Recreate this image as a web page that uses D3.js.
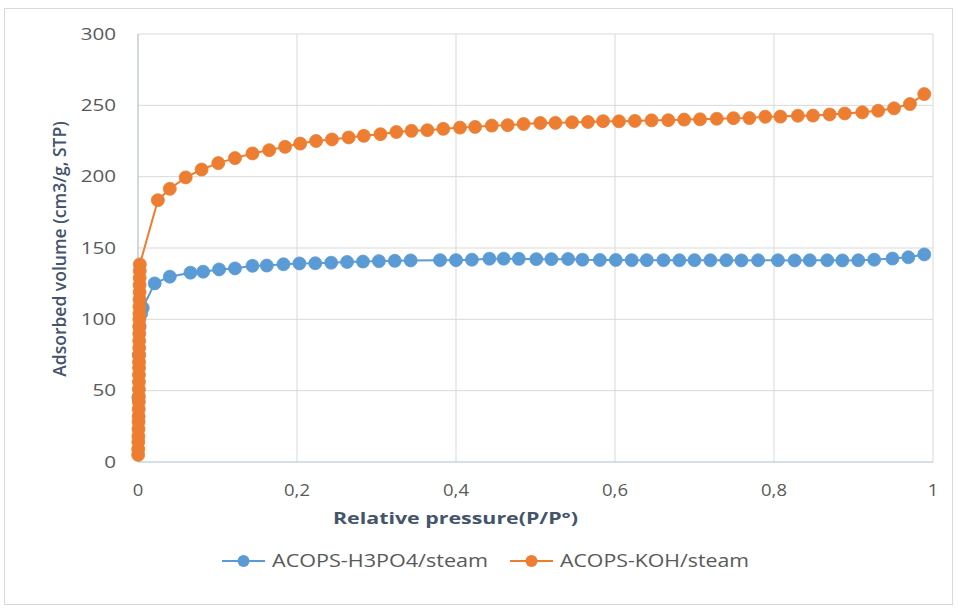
<!DOCTYPE html>
<html lang="en">
<head>
    <meta charset="UTF-8">
    <title>Adsorption isotherms</title>
    <script src="https://d3js.org/d3.v7.min.js"></script>
    <style>
        body { margin: 0; background: #fff; }
        svg { display: block; font-family: "Open Sans", sans-serif; }
        .tick-label { fill: #595959; font-size: 16.5px; }
        .legend-label { fill: #595959; font-size: 18px; }
    </style>
</head>
<body>
<div id="chart"></div>
<script>
    // tick labels
    const xTicks = [0, 0.2, 0.4, 0.6, 0.8, 1];
    const yTicks = [0, 50, 100, 150, 200, 250, 300];
    const seriesNames = ["ACOPS-H3PO4/steam", "ACOPS-KOH/steam"];
    const seriesColors = ["#5B9BD5", "#ED7D31"];

    // [relative pressure, adsorbed volume]
    const h3po4 = [
        [0.0005, 45], [0.001, 75], [0.002, 95], [0.004, 104], [0.006, 108],
        [0.021, 125.2], [0.040, 129.9], [0.066, 132.7], [0.082, 133.4], [0.102, 135],
        [0.122, 135.7], [0.144, 137.5], [0.162, 137.7], [0.183, 138.6], [0.203, 139.2],
        [0.223, 139.3], [0.243, 139.7], [0.263, 140.2], [0.283, 140.5], [0.303, 140.8],
        [0.323, 141], [0.343, 141.3], [0.380, 141.5], [0.400, 141.5], [0.420, 141.8],
        [0.442, 142.5], [0.460, 142.5], [0.479, 142.4], [0.501, 142.2], [0.520, 142.2],
        [0.541, 142.3], [0.559, 141.8], [0.581, 141.6], [0.601, 141.6], [0.621, 141.5],
        [0.640, 141.5], [0.661, 141.5], [0.681, 141.4], [0.700, 141.5], [0.720, 141.4],
        [0.740, 141.4], [0.759, 141.3], [0.780, 141.4], [0.805, 141.4], [0.826, 141.3],
        [0.845, 141.4], [0.867, 141.4], [0.886, 141.3], [0.906, 141.4], [0.926, 141.8],
        [0.949, 142.6], [0.969, 143.5], [0.989, 145.5]
    ];

    const koh = [
        [0.0002, 5], [0.0003, 9], [0.0004, 14], [0.0005, 18], [0.0006, 23],
        [0.0007, 28], [0.0008, 32], [0.0009, 37], [0.001, 42], [0.001, 46],
        [0.0011, 51], [0.0012, 56], [0.0012, 61], [0.0013, 66], [0.0013, 70],
        [0.0014, 75], [0.0015, 80], [0.0015, 85], [0.0016, 90], [0.0016, 95],
        [0.0017, 100], [0.0018, 104], [0.0018, 109], [0.0019, 114], [0.002, 119],
        [0.002, 124], [0.0021, 129], [0.0022, 134], [0.0023, 138.5],
        [0.025, 183.5], [0.040, 191.5], [0.060, 199.5], [0.080, 205], [0.101, 209.5],
        [0.122, 213], [0.144, 216.3], [0.165, 218.6], [0.185, 220.9], [0.204, 223.2],
        [0.224, 225], [0.244, 226.1], [0.265, 227.5], [0.284, 228.6], [0.305, 229.8],
        [0.325, 231.3], [0.344, 232.1], [0.364, 232.6], [0.384, 233.5], [0.405, 234.4],
        [0.424, 234.9], [0.445, 235.8], [0.465, 236.1], [0.485, 236.9], [0.506, 237.6],
        [0.525, 237.7], [0.546, 238.1], [0.566, 238.3], [0.585, 238.9], [0.605, 238.8],
        [0.625, 239.1], [0.646, 239.5], [0.667, 239.6], [0.687, 240], [0.707, 240.2],
        [0.728, 240.6], [0.749, 241], [0.769, 241.1], [0.789, 242], [0.808, 242.1],
        [0.830, 242.7], [0.849, 242.8], [0.870, 243.6], [0.889, 244.3], [0.911, 245.1],
        [0.931, 246.2], [0.951, 247.9], [0.971, 250.9], [0.989, 257.9]
    ];

    const width = 958;
    const height = 608;
    const margin = { top: 34, right: 25, bottom: 146, left: 138 };
    const stretch = 1.25; // the source picture is a bit wide

    const x = d3.scaleLinear().domain([0, 1]).range([margin.left, width - margin.right]);
    const y = d3.scaleLinear().domain([0, 300]).range([height - margin.bottom, margin.top]);

    const svg = d3.select("#chart")
        .append("svg")
        .attr("width", width)
        .attr("height", height);

    // chart frame
    svg.append("rect")
        .attr("x", 4.5).attr("y", 8.5)
        .attr("width", 948).attr("height", 596)
        .attr("fill", "#fff")
        .attr("stroke", "#d9d9d9");

    // gridlines
    svg.append("g")
        .attr("stroke", "#d9d9d9")
        .selectAll("line")
        .data(yTicks.slice(1))
        .join("line")
        .attr("x1", x(0)).attr("x2", x(1))
        .attr("y1", d => y(d)).attr("y2", d => y(d));

    svg.append("g")
        .attr("stroke", "#d9d9d9")
        .selectAll("line")
        .data(xTicks.slice(1))
        .join("line")
        .attr("y1", y(0)).attr("y2", y(300))
        .attr("x1", d => x(d)).attr("x2", d => x(d));

    // axis lines
    svg.append("line")
        .attr("x1", x(0)).attr("x2", x(0)).attr("y1", y(0)).attr("y2", y(300))
        .attr("stroke", "#b4bccb").attr("stroke-width", 1.2);
    svg.append("line")
        .attr("x1", x(0)).attr("x2", x(1)).attr("y1", y(0)).attr("y2", y(0))
        .attr("stroke", "#b4bccb").attr("stroke-width", 1.2);

    // tick labels
    svg.append("g")
        .selectAll("text")
        .data(yTicks)
        .join("text")
        .attr("class", "tick-label")
        .attr("transform", d => `translate(116,${y(d)}) scale(${stretch},1)`)
        .attr("dy", "0.35em")
        .attr("text-anchor", "end")
        .text(d => d);

    svg.append("g")
        .selectAll("text")
        .data(xTicks)
        .join("text")
        .attr("class", "tick-label")
        .attr("transform", d => `translate(${x(d)},490) scale(1.12,1)`)
        .attr("dy", "0.35em")
        .attr("text-anchor", "middle")
        .text(d => String(d).replace(".", ","));

    // axis titles
    svg.append("text")
        .attr("x", 333)
        .attr("y", 518)
        .attr("dy", "0.35em")
        .attr("fill", "#44546a")
        .attr("font-size", 16)
        .attr("font-weight", "bold")
        .attr("textLength", 245)
        .attr("lengthAdjust", "spacingAndGlyphs")
        .text("Relative pressure(P/P°)");

    svg.append("text")
        .attr("transform", "translate(60,249) rotate(-90)")
        .attr("dy", "0.35em")
        .attr("text-anchor", "middle")
        .attr("fill", "#44546a")
        .attr("font-size", 17.5)
        .attr("font-weight", 600)
        .text("Adsorbed volume (cm3/g, STP)");

    // series
    const line = d3.line().x(d => x(d[0])).y(d => y(d[1]));
    [h3po4, koh].forEach((data, i) => {
        const g = svg.append("g");
        g.append("path")
            .datum(data)
            .attr("d", line)
            .attr("fill", "none")
            .attr("stroke", seriesColors[i])
            .attr("stroke-width", 2);
        g.selectAll("circle")
            .data(data)
            .join("circle")
            .attr("cx", d => x(d[0]))
            .attr("cy", d => y(d[1]))
            .attr("r", 6.5)
            .attr("fill", seriesColors[i])
            .attr("stroke", seriesColors[i])
            .attr("stroke-width", 0.8);
    });

    // legend
    const legendX = [222, 510];
    const legendTextWidth = [216, 189];
    const legend = svg.append("g")
        .selectAll("g")
        .data(seriesNames)
        .join("g")
        .attr("transform", (d, i) => `translate(${legendX[i]},561)`);
    legend.append("line")
        .attr("x1", 0).attr("x2", 43)
        .attr("stroke", (d, i) => seriesColors[i])
        .attr("stroke-width", 2);
    legend.append("circle")
        .attr("cx", 21.5).attr("r", 6)
        .attr("fill", (d, i) => seriesColors[i]);
    legend.append("text")
        .attr("class", "legend-label")
        .attr("x", 50)
        .attr("dy", "0.35em")
        .attr("textLength", (d, i) => legendTextWidth[i])
        .attr("lengthAdjust", "spacingAndGlyphs")
        .text(d => d);
</script>
</body>
</html>
